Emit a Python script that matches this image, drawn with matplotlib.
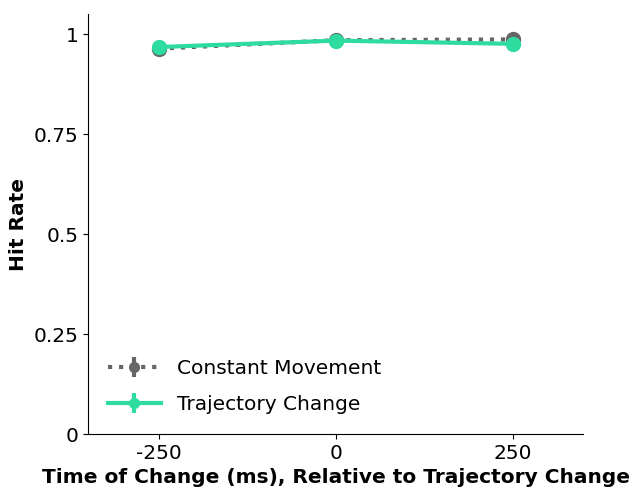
import numpy as np
import matplotlib.pyplot as plt

times = [-250, 0, 250]
constant_hit = [0.964, 0.985, 0.987]
trajectory_hit = [0.968, 0.984, 0.976]
constant_err = [0.004, 0.003, 0.003]
trajectory_err = [0.004, 0.003, 0.004]

fig = plt.figure(figsize=(6.34, 4.91), dpi=100)
ax = fig.add_axes([0.139, 0.116, 0.781, 0.855])

ax.errorbar(times, constant_hit, yerr=constant_err, color='#666666', linestyle=':',
            linewidth=3, marker='o', markersize=10, label='Constant Movement')
ax.errorbar(times, trajectory_hit, yerr=trajectory_err, color='#2edc9f', linestyle='-',
            linewidth=3, marker='o', markersize=10, label='Trajectory Change')

ax.set_xlim(-350, 350)
ax.set_ylim(0, 1.05)
ax.set_xticks(times)
ax.set_xticklabels(['-250', '0', '250'])
ax.set_yticks([0, 0.25, 0.5, 0.75, 1])
ax.set_yticklabels(['0', '0.25', '0.5', '0.75', '1'])
ax.tick_params(labelsize=14.5)
ax.spines['top'].set_visible(False)
ax.spines['right'].set_visible(False)
ax.set_xlabel('Time of Change (ms), Relative to Trajectory Change', fontsize=14.5, fontweight='bold')
ax.set_ylabel('Hit Rate', fontsize=14.5, fontweight='bold')
ax.legend(frameon=False, fontsize=14.5, loc='lower left', handlelength=2.6,
          labelspacing=0.85, markerscale=0.7, borderaxespad=0.6)

fig.savefig('out.png', dpi=100)
